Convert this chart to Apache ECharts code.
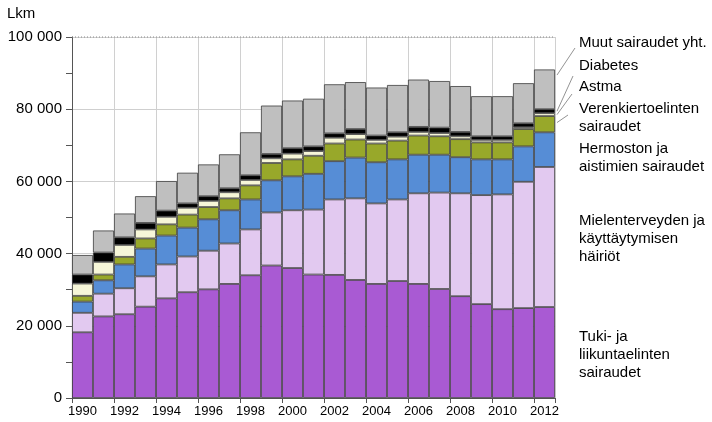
<!DOCTYPE html>
<html>
<head>
<meta charset="utf-8">
<script src="https://cdn.jsdelivr.net/npm/echarts@6/dist/echarts.min.js"></script>
<style>html,body{margin:0;padding:0;background:#fff;}#c{width:712px;height:422px;}</style>
</head>
<body>
<div id="c"></div>
<script>
const years = ['1990','1991','1992','1993','1994','1995','1996','1997','1998','1999','2000','2001','2002','2003','2004','2005','2006','2007','2008','2009','2010','2011','2012'];
const tuki   = [18200,22600,23200,25300,27600,29300,30100,31600,34000,36700,36000,34200,34100,32700,31600,32400,31600,30200,28200,26000,24600,24900,25200];
const mielen = [5400,6300,7200,8400,9400,9900,10700,11200,12700,14700,16000,18000,20900,22600,22300,22600,25100,26700,28500,30200,31800,35000,38800];
const hermo  = [3100,3700,6600,7700,8000,8000,8700,9200,8300,8900,9400,9900,10600,11300,11400,11100,10700,10500,10000,9900,9700,9800,9600];
const veren  = [1600,1600,2100,2800,3100,3600,3400,3300,3900,4800,4700,5000,4900,5000,5200,5200,5300,5100,5000,4700,4700,4800,4500];
const astma  = [3400,3500,3300,2500,2100,1900,1700,1700,1500,1300,1600,1300,1600,1500,1000,1100,1000,900,800,700,700,500,800];
const diab   = [2500,2600,2100,1800,1700,1200,1300,1100,1300,1200,1500,1300,1200,1400,1200,1200,1400,1500,1200,1000,1000,1100,1100];
const muut   = [5400,6100,6600,7400,8200,8500,8800,9400,11900,13400,13200,13200,13600,13000,13300,13100,13100,12900,12700,11100,11100,11100,11000];
const yTicks = [0,20000,40000,60000,80000,100000];

const seriesDefs = [
  {name:'Tuki- ja liikuntaelinten sairaudet', data:tuki, color:'#a95ad3'},
  {name:'Mielenterveyden ja käyttäytymisen häiriöt', data:mielen, color:'#e2c9f0'},
  {name:'Hermoston ja aistimien sairaudet', data:hermo, color:'#568dd6'},
  {name:'Verenkiertoelinten sairaudet', data:veren, color:'#98a82a'},
  {name:'Astma', data:astma, color:'#f6f6d8'},
  {name:'Diabetes', data:diab, color:'#000000'},
  {name:'Muut sairaudet yht.', data:muut, color:'#bfbfbf'}
];

const chart = echarts.init(document.getElementById('c'), null, {renderer:'canvas'});
const fmt = v => String(v).replace(/\B(?=(\d{3})+(?!\d))/g, ' ');
const FONT = 'Liberation Sans, Arial, sans-serif';

chart.setOption({
  animation:false,
  backgroundColor:'#fff',
  grid:{left:72, right:157, top:37, bottom:24, containLabel:false},
  xAxis:{
    type:'category', data:years,
    axisLine:{lineStyle:{color:'#555', width:1}},
    axisTick:{show:true, interval:1, length:5, lineStyle:{color:'#555'}},
    axisLabel:{interval:1, color:'#000', fontSize:13, fontFamily:FONT, margin:7},
    splitLine:{show:true, interval:1, lineStyle:{color:'#d0d0d0', width:1}}
  },
  yAxis:{
    type:'value', min:0, max:100000, interval:20000,
    axisLine:{show:true, lineStyle:{color:'#555', width:1}},
    axisTick:{show:true, length:6, lineStyle:{color:'#555'}},
    minorTick:{show:true, splitNumber:2, length:6, lineStyle:{color:'#555'}},
    axisLabel:{color:'#000', fontSize:15, fontFamily:FONT, margin:10, formatter:v => yTicks.includes(v) ? fmt(v) : ''},
    splitLine:{show:true, lineStyle:{color:'#cfcfcf', width:1}}
  },
  series: seriesDefs.map(s => ({
    name:s.name, type:'bar', stack:'total', data:s.data,
    barCategoryGap:'0%',
    itemStyle:{color:s.color, borderColor:'#3c3c3c', borderWidth:0.8},
    emphasis:{disabled:true}
  }))
});

function cum(idx, upto){ let s=0; for(let i=0;i<=upto;i++) s+=seriesDefs[i].data[idx]; return s; }
const last = years.length-1;
const pLast = chart.convertToPixel({xAxisIndex:0,yAxisIndex:0},[last,0]);
const halfBand = (chart.convertToPixel({xAxisIndex:0,yAxisIndex:0},[1,0])[0] - chart.convertToPixel({xAxisIndex:0,yAxisIndex:0},[0,0])[0])/2;
const edgeX = pLast[0] + halfBand + 2;
function yAt(v){ return chart.convertToPixel({xAxisIndex:0,yAxisIndex:0},[last,v])[1]; }

const labels = [
  {lines:['Muut sairaudet yht.'], y:44},
  {lines:['Diabetes'], y:67},
  {lines:['Astma'], y:88},
  {lines:['Verenkiertoelinten','sairaudet'], y:110},
  {lines:['Hermoston ja','aistimien sairaudet'], y:150},
  {lines:['Mielenterveyden ja','käyttäytymisen','häiriöt'], y:222},
  {lines:['Tuki- ja','liikuntaelinten','sairaudet'], y:338}
];
const graphics = [
  {type:'text', left:7, top:6, silent:true, style:{text:'Lkm', fill:'#000', font:'15px ' + FONT}}
];
labels.forEach(l => {
  l.lines.forEach((t,i) => {
    graphics.push({type:'text', left:579, top:l.y - 9 + i*18.3, silent:true,
      style:{text:t, fill:'#000', font:'15px ' + FONT}});
  });
});
const leaders = [
  {v: cum(last,5) + muut[last]*0.86, end:[575,48]},
  {v: cum(last,4) + diab[last]*0.5, end:[573,76]},
  {v: cum(last,3) + astma[last]*0.5, end:[572,94]},
  {v: cum(last,2) + veren[last]*0.6, end:[568,115]}
];
leaders.forEach(d => {
  graphics.push({type:'line', silent:true,
    shape:{x1:edgeX, y1:yAt(d.v), x2:d.end[0], y2:d.end[1]},
    style:{stroke:'#777', lineWidth:0.8}});
});
// dotted top border line of the plot area at the axis maximum
const topY = yAt(100000);
const leftX = chart.convertToPixel({xAxisIndex:0,yAxisIndex:0},[0,0])[0] - halfBand;
graphics.push({type:'line', silent:true, z:10,
  shape:{x1:leftX, y1:topY, x2:edgeX-2, y2:topY},
  style:{stroke:'#888', lineWidth:1, lineDash:[1,2]}});
chart.setOption({graphic:graphics});
</script>
</body>
</html>
